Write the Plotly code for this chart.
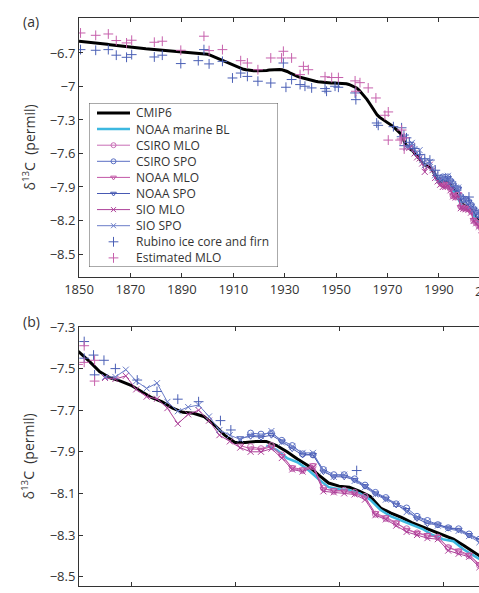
import plotly.graph_objects as go

# ---------------- data ----------------
cmip6_years = list(range(1850, 2016))
cmip6_d13c = [
    -6.595, -6.597, -6.600, -6.602, -6.605, -6.607, -6.610, -6.612, -6.615, -6.618,
    -6.620, -6.623, -6.626, -6.629, -6.632, -6.635, -6.638, -6.641, -6.645, -6.648,
    -6.650, -6.652, -6.655, -6.657, -6.659, -6.661, -6.663, -6.665, -6.667, -6.670,
    -6.672, -6.675, -6.677, -6.680, -6.682, -6.685, -6.687, -6.690, -6.692, -6.695,
    -6.697, -6.699, -6.700, -6.702, -6.703, -6.705, -6.706, -6.707, -6.708, -6.709,
    -6.712, -6.720, -6.730, -6.742, -6.753, -6.763, -6.772, -6.783, -6.793, -6.803,
    -6.812, -6.822, -6.832, -6.840, -6.846, -6.851, -6.855, -6.858, -6.859, -6.860,
    -6.860, -6.859, -6.858, -6.856, -6.853, -6.851, -6.849, -6.848, -6.848, -6.850,
    -6.856, -6.866, -6.878, -6.890, -6.900, -6.910, -6.918, -6.925, -6.932, -6.938,
    -6.943, -6.948, -6.953, -6.957, -6.960, -6.963, -6.965, -6.967, -6.968, -6.968,
    -6.969, -6.970, -6.971, -6.973, -6.976, -6.982, -6.990, -7.000, -7.013, -7.035,
    -7.060, -7.085, -7.115, -7.150, -7.185, -7.220, -7.255, -7.277, -7.292, -7.305,
    -7.318, -7.335, -7.355, -7.375, -7.400, -7.420, -7.465, -7.515, -7.545, -7.560,
    -7.580, -7.610, -7.640, -7.660, -7.690, -7.710, -7.715, -7.730, -7.770, -7.820,
    -7.855, -7.855, -7.850, -7.850, -7.870, -7.900, -7.935, -7.965, -8.010, -8.050,
    -8.065, -8.070, -8.090, -8.115, -8.170, -8.195, -8.215, -8.240, -8.260, -8.280,
    -8.300, -8.320, -8.350, -8.385, -8.420, -8.450,
]

noaa_bl_years = list(range(1993, 2015))
noaa_bl_d13c = [-7.870, -7.890, -7.930, -7.950, -7.985, -8.030, -8.070, -8.080, -8.085, -8.100,
                -8.130, -8.180, -8.210, -8.230, -8.250, -8.270, -8.300, -8.320, -8.330, -8.370,
                -8.400, -8.430]

# annual means, plotted at mid-year
csiro_years = [y + 0.5 for y in range(1991, 2014)]
csiro_mlo = [-7.875, -7.885, -7.870, -7.915, -7.980, -7.990, -7.970, -8.075, -8.090, -8.085,
             -8.095, -8.115, -8.200, -8.220, -8.245, -8.270, -8.290, -8.305, -8.310, -8.360,
             -8.380, -8.400, -8.445]
csiro_spo = [-7.810, -7.815, -7.810, -7.845, -7.870, -7.910, -7.915, -7.985, -8.010, -8.010,
             -8.030, -8.060, -8.095, -8.120, -8.150, -8.170, -8.210, -8.230, -8.250, -8.265,
             -8.270, -8.295, -8.320]

noaa_years = [y + 0.5 for y in range(1990, 2014)]
noaa_mlo = [-7.870, -7.885, -7.890, -7.875, -7.920, -7.975, -7.985, -7.965, -8.080, -8.085,
            -8.090, -8.100, -8.120, -8.195, -8.215, -8.240, -8.275, -8.290, -8.300, -8.310,
            -8.360, -8.375, -8.395, -8.440]
noaa_spo = [-7.835, -7.825, -7.830, -7.820, -7.850, -7.885, -7.915, -7.915, -7.995, -8.020,
            -8.020, -8.035, -8.065, -8.100, -8.125, -8.155, -8.180, -8.220, -8.245, -8.250,
            -8.265, -8.275, -8.300, -8.325]

sio_years = [y + 0.5 for y in range(1977, 2014)]
sio_mlo = [-7.545, -7.550, -7.535, -7.600, -7.635, -7.645, -7.690, -7.765, -7.720, -7.700,
           -7.750, -7.820, -7.850, -7.880, -7.900, -7.900, -7.885, -7.930, -7.985, -7.995,
           -7.975, -8.090, -8.095, -8.100, -8.105, -8.130, -8.205, -8.225, -8.255, -8.285,
           -8.300, -8.315, -8.320, -8.375, -8.390, -8.405, -8.455]
sio_spo = [-7.540, -7.540, -7.505, -7.560, -7.595, -7.570, -7.660, -7.705, -7.685, -7.675,
           -7.730, -7.795, -7.820, -7.840, -7.820, -7.825, -7.800, -7.855, -7.875, -7.905,
           -7.905, -7.990, -8.020, -8.010, -8.040, -8.070, -8.105, -8.130, -8.150, -8.190,
           -8.215, -8.235, -8.255, -8.270, -8.280, -8.305, -8.335]

rubino_years = [1850.6, 1856.5, 1861.4, 1864.5, 1868.5, 1870.5, 1879.3, 1882.4, 1889.6, 1896.4,
                1898.6, 1900.6, 1905.8, 1909.7, 1912.9, 1915.5, 1919.6, 1924.6, 1929.5, 1930.5,
                1932.7, 1936.0, 1937.9, 1940.5, 1945.7, 1946.3, 1949.6, 1950.9, 1957.4, 1957.7,
                1965.8, 1966.4, 1972.3, 1975.5, 1975.5, 1976.4, 1976.5, 1977.4, 1978.5, 1980.6,
                1982.5, 1984.5, 1986.5, 1988.6, 1989.6, 2001.7]
rubino_d13c = [-6.670, -6.676, -6.670, -6.720, -6.739, -6.715, -6.736, -6.720, -6.795, -6.769,
               -6.670, -6.798, -6.775, -6.924, -6.880, -6.910, -6.953, -6.969, -6.790, -7.007,
               -6.938, -6.983, -6.998, -7.013, -7.019, -7.043, -6.998, -7.007, -7.058, -7.118,
               -7.327, -7.348, -7.360, -7.370, -7.450, -7.435, -7.530, -7.460, -7.500, -7.555,
               -7.610, -7.647, -7.659, -7.750, -7.795, -7.990]

est_mlo_years = [1850.6, 1856.5, 1861.4, 1864.5, 1868.5, 1870.5, 1879.3, 1882.4, 1889.6, 1898.6,
                 1900.6, 1905.8, 1912.9, 1915.5, 1919.6, 1924.6, 1928.8, 1929.5, 1932.7, 1936.0,
                 1937.3, 1939.2, 1945.7, 1948.3, 1950.9, 1957.4, 1957.7, 1959.3, 1962.5, 1965.5,
                 1969.0, 1970.3, 1970.3, 1974.9, 1975.5, 1975.5, 1976.5, 1976.5]
est_mlo_d13c = [-6.521, -6.542, -6.530, -6.589, -6.610, -6.586, -6.604, -6.595, -6.676, -6.550,
                -6.679, -6.670, -6.769, -6.790, -6.850, -6.745, -6.745, -6.685, -6.745, -6.894,
                -6.820, -6.850, -6.913, -6.920, -6.920, -6.950, -7.043, -6.966, -7.013, -7.103,
                -7.258, -7.228, -7.480, -7.480, -7.390, -7.470, -7.460, -7.560]

top_yticks = [-6.7, -7.0, -7.3, -7.6, -7.9, -8.2, -8.5]
top_yticklabels = ["\u22126.7", "\u22127", "\u22127.3", "\u22127.6", "\u22127.9", "\u22128.2", "\u22128.5"]
bot_yticks = [-7.3, -7.5, -7.7, -7.9, -8.1, -8.3, -8.5]
top_xticks = [1850, 1870, 1890, 1910, 1930, 1950, 1970, 1990, 2010]
bot_xticks = [1980, 1990, 2000, 2010]

# ---------------- styles ----------------
C_CMIP = "#000000"
C_BL = "#3db8e0"
C_CS_MLO = "#c86db6"
C_CS_SPO = "#5a6fc3"
C_NO_MLO = "#c257a6"
C_NO_SPO = "#4759b3"
C_SI_MLO = "#ad4199"
C_SI_SPO = "#6b7dc8"
C_RUB = "#4a5fb5"
C_EST = "#c660ac"

FONT = "Open Sans"
TXT = "#333333"

series = [
    dict(name="CMIP6", x=cmip6_years, y=cmip6_d13c, mode="lines",
         line=dict(color=C_CMIP, width=3)),
    dict(name="NOAA marine BL", x=noaa_bl_years, y=noaa_bl_d13c, mode="lines",
         line=dict(color=C_BL, width=2.5)),
    dict(name="CSIRO MLO", x=csiro_years, y=csiro_mlo, mode="lines+markers",
         line=dict(color=C_CS_MLO, width=1),
         marker=dict(symbol="circle-open", size=6, color=C_CS_MLO, line=dict(width=1))),
    dict(name="CSIRO SPO", x=csiro_years, y=csiro_spo, mode="lines+markers",
         line=dict(color=C_CS_SPO, width=1),
         marker=dict(symbol="circle-open", size=6, color=C_CS_SPO, line=dict(width=1))),
    dict(name="NOAA MLO", x=noaa_years, y=noaa_mlo, mode="lines+markers",
         line=dict(color=C_NO_MLO, width=1),
         marker=dict(symbol="triangle-down-open", size=6, color=C_NO_MLO, line=dict(width=1))),
    dict(name="NOAA SPO", x=noaa_years, y=noaa_spo, mode="lines+markers",
         line=dict(color=C_NO_SPO, width=1),
         marker=dict(symbol="triangle-down-open", size=6, color=C_NO_SPO, line=dict(width=1))),
    dict(name="SIO MLO", x=sio_years, y=sio_mlo, mode="lines+markers",
         line=dict(color=C_SI_MLO, width=1),
         marker=dict(symbol="x-thin", size=6, color=C_SI_MLO, line=dict(width=1, color=C_SI_MLO))),
    dict(name="SIO SPO", x=sio_years, y=sio_spo, mode="lines+markers",
         line=dict(color=C_SI_SPO, width=1),
         marker=dict(symbol="x-thin", size=6, color=C_SI_SPO, line=dict(width=1, color=C_SI_SPO))),
    dict(name="Rubino ice core and firn", x=rubino_years, y=rubino_d13c, mode="markers",
         marker=dict(symbol="cross-thin", size=7, color=C_RUB, line=dict(width=1, color=C_RUB))),
    dict(name="Estimated MLO", x=est_mlo_years, y=est_mlo_d13c, mode="markers",
         marker=dict(symbol="cross-thin", size=7, color=C_EST, line=dict(width=1, color=C_EST))),
]

fig = go.Figure()
for s in series:
    fig.add_trace(go.Scatter(xaxis="x", yaxis="y", showlegend=False, hoverinfo="skip", **s))
for s in series:
    fig.add_trace(go.Scatter(xaxis="x2", yaxis="y2", showlegend=False, hoverinfo="skip", **s))

# ---- compact legend (matching the original's 16 px row spacing) on an overlay axis ----
LEG_W, LEG_H = 189, 164          # box size in px
ROW0, ROW_DY = 10, 16.1          # first row centre and row spacing (px)
SAMPLE_X0, SAMPLE_X1, TEXT_X = 8, 41, 45
legend_annots = []
for i, s in enumerate(series):
    yrow = ROW0 + ROW_DY * i
    xmid = (SAMPLE_X0 + SAMPLE_X1) / 2
    if "lines" in s["mode"]:
        fig.add_trace(go.Scatter(x=[SAMPLE_X0, SAMPLE_X1], y=[yrow, yrow], mode="lines",
                                 line=s["line"], xaxis="x3", yaxis="y3",
                                 showlegend=False, hoverinfo="skip"))
    if "markers" in s["mode"]:
        m = dict(s["marker"])
        m["size"] = 5 if "lines" in s["mode"] else 7
        fig.add_trace(go.Scatter(x=[xmid], y=[yrow], mode="markers", marker=m,
                                 xaxis="x3", yaxis="y3", showlegend=False, hoverinfo="skip"))
    legend_annots.append(dict(text=s["name"], x=TEXT_X, y=yrow, xref="x3", yref="y3",
                              showarrow=False, xanchor="left", yanchor="middle",
                              font=dict(family=FONT, size=12, color=TXT)))

axis_common = dict(showline=True, linecolor="#333333", linewidth=1, ticks="inside",
                   ticklen=4, tickwidth=1, tickcolor="#333333", showgrid=False,
                   zeroline=False, tickfont=dict(family=FONT, size=13, color=TXT))

PLOT_W, PLOT_H = 400, 568
leg_left_px, leg_top_px = 10, 85   # relative to plot-area origin (79, 18)
leg_x0 = leg_left_px / PLOT_W
leg_x1 = (leg_left_px + LEG_W) / PLOT_W
leg_y1 = 1 - leg_top_px / PLOT_H
leg_y0 = 1 - (leg_top_px + LEG_H) / PLOT_H

fig.update_layout(
    width=479, height=593,
    margin=dict(l=79, r=0, t=18, b=7),
    paper_bgcolor="white", plot_bgcolor="white",
    font=dict(family=FONT, color=TXT),
    showlegend=False,
    xaxis=dict(domain=[0, 1], anchor="y", range=[1850, 2005.6], tickvals=top_xticks,
               mirror="ticks", **axis_common),
    yaxis=dict(domain=[0.544, 1.0], anchor="x", range=[-8.706, -6.387],
               tickvals=top_yticks, ticktext=top_yticklabels, mirror=False, **axis_common),
    xaxis2=dict(domain=[0, 1], anchor="y2", range=[1975, 2013.46], tickvals=bot_xticks,
                showticklabels=False, mirror="ticks", **axis_common),
    yaxis2=dict(domain=[0.0, 0.456], anchor="x2", range=[-8.545, -7.3],
                tickvals=bot_yticks, mirror=False, **axis_common),
    xaxis3=dict(domain=[leg_x0, leg_x1], anchor="y3", range=[0, LEG_W], visible=False,
                fixedrange=True),
    yaxis3=dict(domain=[leg_y0, leg_y1], anchor="x3", range=[LEG_H, 0], visible=False,
                fixedrange=True),
)

fig.add_shape(type="rect", xref="x3", yref="y3", x0=0, x1=LEG_W, y0=0, y1=LEG_H,
              line=dict(color="#555555", width=1), fillcolor="white", layer="below")

ytitle = "\u03b4<sup>13</sup>C  (permil)"
annots = [
    dict(text=ytitle, x=-0.125, y=(0.544 + 1.0) / 2, xref="paper", yref="paper",
         textangle=-90, showarrow=False, xanchor="center", yanchor="middle",
         font=dict(family=FONT, size=14, color=TXT)),
    dict(text=ytitle, x=-0.125, y=0.456 / 2, xref="paper", yref="paper",
         textangle=-90, showarrow=False, xanchor="center", yanchor="middle",
         font=dict(family=FONT, size=14, color=TXT)),
    dict(text="(a)", x=-0.12, y=1.0 - 4 / 568, xref="paper", yref="paper",
         showarrow=False, xanchor="center", yanchor="middle",
         font=dict(family=FONT, size=14, color=TXT)),
    dict(text="(b)", x=-0.12, y=0.456 + 5 / 568, xref="paper", yref="paper",
         showarrow=False, xanchor="center", yanchor="middle",
         font=dict(family=FONT, size=14, color=TXT)),
    dict(text="2010", x=(490 - 79) / 400, y=0.544 - 14 / 568, xref="paper", yref="paper",
         showarrow=False, xanchor="center", yanchor="middle",
         font=dict(family=FONT, size=13, color=TXT)),
]
fig.update_layout(annotations=annots + legend_annots)

fig.write_html("out.html")
